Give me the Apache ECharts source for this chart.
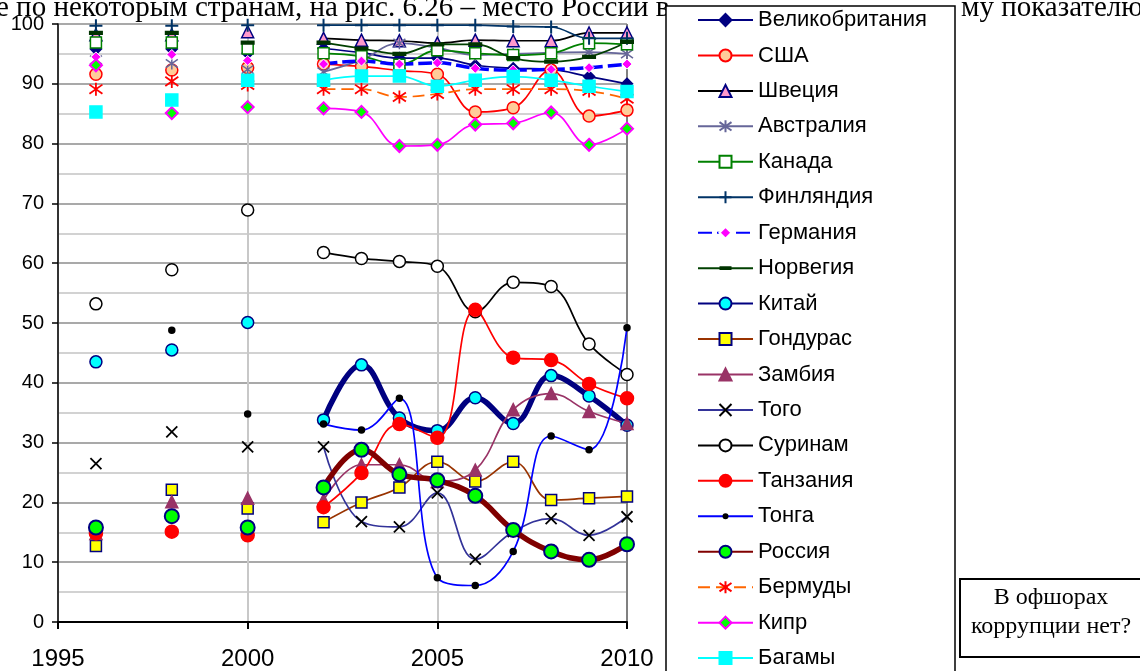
<!DOCTYPE html>
<html><head><meta charset="utf-8">
<script src="https://cdn.jsdelivr.net/npm/echarts@6/dist/echarts.min.js"></script>
<style>html,body{margin:0;padding:0;background:#fff;overflow:hidden}#c{width:1140px;height:671px}</style>
</head><body><div id="c"></div>
<script>
// ---- data (percentile rank) ----
const years = [1996,1997,1998,1999,2000,2001,2002,2003,2004,2005,2006,2007,2008,2009,2010];
const xTickLabels = [1995,2000,2005,2010];
const yTickLabels = [0,10,20,30,40,50,60,70,80,90,100];
const names = ['Великобритания','США','Швеция','Австралия','Канада','Финляндия','Германия','Норвегия','Китай','Гондурас','Замбия','Того','Суринам','Танзания','Тонга','Россия','Бермуды','Кипр','Багамы'];
const uk       = [95.8,null,95.8,null,95.1,null, 95.9,95.2,94.3,94.3,93.1,92.6,92.4,91.2,90.0];
const usa      = [91.6,null,92.3,null,92.7,null, 93.3,92.9,92.2,91.6,85.3,86.0,92.3,84.6,85.6];
const sweden   = [98.2,null,98.2,null,98.7,null, 97.6,97.3,97.2,96.8,97.3,97.2,97.2,98.5,98.5];
const australia= [94.0,null,93.4,null,92.4,null, 92.0,94.0,96.8,96.0,94.8,95.0,95.2,95.3,95.0];
const canada   = [96.9,null,96.9,null,95.9,null, 95.1,94.6,93.2,95.6,95.1,94.8,95.1,96.8,96.6];
const finland  = [99.7,null,99.7,null,99.8,null, 99.8,99.8,99.8,99.8,99.8,99.6,99.5,97.6,97.6];
const germany  = [94.5,null,94.9,null,93.9,null, 93.3,93.8,93.3,93.5,92.6,92.3,92.4,92.7,93.3];
const norway   = [98.5,null,98.5,null,96.9,null, 96.9,95.9,95.0,96.6,96.6,94.3,93.7,94.5,97.0];
const china    = [43.5,null,45.5,null,50.1,null, 33.8,43.0,34.1,32.0,37.5,33.2,41.2,37.8,32.9];
const honduras = [12.7,null,22.1,null,19.0,null, 16.7,20.0,22.5,26.8,23.5,26.8,20.4,20.7,21.0];
const zambia   = [14.8,null,20.1,null,20.7,null, 20.4,26.3,26.3,23.5,25.4,35.5,38.2,35.2,33.2];
const togo     = [26.5,null,31.8,null,29.3,null, 29.3,16.8,15.9,21.6,10.5,15.1,17.3,14.5,17.6];
const suriname = [53.2,null,58.9,null,68.9,null, 61.8,60.8,60.3,59.5,51.9,56.8,56.1,46.5,41.4];
const tanzania = [14.8,null,15.1,null,14.5,null, 19.2,24.9,33.1,30.8,52.2,44.2,43.8,39.8,37.4];
const tonga    = [null,null,48.8,null,34.8,null, 33.1,32.1,37.4,7.4,6.1,11.8,31.1,28.8,49.2];
const russia   = [15.8,null,17.7,null,15.8,null, 22.5,28.8,24.7,23.7,21.1,15.4,11.8,10.4,13.0];
const bermuda  = [89.1,null,90.4,null,89.8,null, 89.1,89.1,87.8,88.3,89.1,89.1,89.1,88.8,87.5];
const cyprus   = [93.1,null,85.1,null,86.1,null, 85.9,85.3,79.6,79.8,83.2,83.4,85.2,79.8,82.5];
const bahamas  = [85.3,null,87.3,null,90.6,null, 90.6,91.3,91.3,89.6,90.6,91.2,90.6,89.6,88.7];

const AST = 'path://M10,0L10,20M0,3L20,17M20,3L0,17';
const PLUS = 'path://M10,0L10,20M0,10L20,10';
const XS = 'path://M0,0L20,20M20,0L0,20';
const DASH = 'path://M0,0L0,0.1M20,20L20,19.9M0,7L20,7L20,13L0,13Z';
const DOT = 'path://M0,0L0,0.1M20,20L20,19.9M15,10A5,5 0 1,1 5,10A5,5 0 1,1 15,10Z';

function mk(name, data, o) {
  return {
    name: name, type: 'line',
    data: years.map(function (y, i) { return [y, data[i] == null ? '-' : data[i]]; }),
    smooth: 0.4, connectNulls: false, showSymbol: true, showAllSymbol: true,
    symbol: o.symbol, symbolSize: o.size,
    lineStyle: { color: o.line, width: o.w || 1.7, type: o.dash || 'solid' },
    itemStyle: { color: o.fill, borderColor: o.border || o.fill, borderWidth: o.bw == null ? 1.5 : o.bw },
    emphasis: { disabled: true }, animation: false
  };
}

const series = [
  mk(names[0], uk,        { line:'#000080', symbol:'diamond', size:11, fill:'#000080' }),
  mk(names[1], usa,       { line:'#ff0000', symbol:'circle', size:12, fill:'#ffcc99', border:'#ff0000' }),
  mk(names[2], sweden,    { line:'#000000', symbol:'triangle', size:12, fill:'#ff99cc', border:'#000080' }),
  mk(names[3], australia, { line:'#666699', symbol:AST, size:12, fill:'none', border:'#666699' }),
  mk(names[4], canada,    { line:'#008000', symbol:'rect', size:11, fill:'#ffffff', border:'#008000' }),
  mk(names[5], finland,   { line:'#003366', symbol:PLUS, size:13, fill:'none', border:'#003366', bw:2 }),
  mk(names[6], germany,   { line:'#0000ff', w:3.5, dash:[14,5], symbol:'diamond', size:10, fill:'#ff00ff', border:'#ffffff', bw:1 }),
  mk(names[7], norway,    { line:'#004000', symbol:DASH, size:14, fill:'#003300', bw:0 }),
  mk(names[8], china,     { line:'#000080', w:5.5, symbol:'circle', size:12, fill:'#00ffff', border:'#000080' }),
  mk(names[9], honduras,  { line:'#993300', symbol:'rect', size:11, fill:'#ffff00', border:'#000080' }),
  mk(names[10], zambia,   { line:'#993366', symbol:'triangle', size:12, fill:'#993366' }),
  mk(names[11], togo,     { line:'#333399', symbol:XS, size:11, fill:'none', border:'#000000', bw:1.8 }),
  mk(names[12], suriname, { line:'#000000', symbol:'circle', size:12, fill:'#ffffff', border:'#000000' }),
  mk(names[13], tanzania, { line:'#ff0000', symbol:'circle', size:13, fill:'#ff0000' }),
  mk(names[14], tonga,    { line:'#0000ff', symbol:DOT, size:15, fill:'#000000', bw:0 }),
  mk(names[15], russia,   { line:'#800000', w:5.5, symbol:'circle', size:14, fill:'#00ff00', border:'#000080', bw:2 }),
  mk(names[16], bermuda,  { line:'#ff6600', dash:[12,6], symbol:AST, size:13, fill:'none', border:'#ff0000', bw:1.8 }),
  mk(names[17], cyprus,   { line:'#ff00ff', symbol:'diamond', size:12, fill:'#00ff00', border:'#ff00ff', bw:2 }),
  mk(names[18], bahamas,  { line:'#00ffff', symbol:'rect', size:12, fill:'#00ffff' })
];

const chart = echarts.init(document.getElementById('c'), null, { renderer: 'canvas' });
chart.setOption({
  backgroundColor: '#ffffff',
  animation: false,
  grid: { left: 58, top: 24, right: 513, bottom: 49 },
  xAxis: {
    type: 'value', min: 1995, max: 2010, interval: 5,
    axisLine: { show: true, onZero: false, lineStyle: { color: '#000', width: 2 } },
    axisTick: { show: true, length: 7, lineStyle: { color: '#000', width: 2 } },
    axisLabel: { color: '#000', fontSize: 24, fontFamily: 'Liberation Sans, Arial', margin: 25,
      formatter: function (v) { return xTickLabels.indexOf(v) >= 0 ? String(v) : ''; } },
    splitLine: { show: true, lineStyle: { color: ['#c8c8c8','#c8c8c8','#c8c8c8','#808080'], width: 2 } }
  },
  yAxis: {
    type: 'value', min: 0, max: 100, interval: 10,
    axisLine: { show: true, lineStyle: { color: '#000', width: 1.5 } },
    axisTick: { show: true, length: 6, lineStyle: { color: '#000', width: 1.5 } },
    axisLabel: { color: '#000', fontSize: 20, fontFamily: 'Liberation Sans, Arial', margin: 14,
      formatter: function (v) { return yTickLabels.indexOf(v) >= 0 ? String(v) : ''; } },
    splitLine: { show: true, lineStyle: { color: '#8c8c8c', width: 1.5 } },
    minorTick: { show: false, splitNumber: 2 },
    minorSplitLine: { show: true, lineStyle: { color: '#c4c4c4', width: 1.5 } }
  },
  legend: {
    orient: 'vertical', left: 697, top: 9, padding: 0,
    itemWidth: 55, itemHeight: 15, itemGap: 13.45,
    selectedMode: false,
    textStyle: { color: '#000', fontSize: 22, fontFamily: 'Liberation Sans, Arial', lineHeight: 22 },
    data: names
  },
  graphic: [
    { type: 'text', x: -4, y: 8, z: 1, style: { text: 'е по некоторым странам, на рис. 6.26 – место России в', font: '29px "Liberation Serif", "Times New Roman"', fill: '#000', verticalAlign: 'middle', align: 'left' } },
    { type: 'text', x: 1143, y: 8, z: 1, style: { text: 'му показателю', font: '29px "Liberation Serif", "Times New Roman"', fill: '#000', verticalAlign: 'middle', align: 'right' } },
    { type: 'rect', z: 2, shape: { x: 666, y: 6, width: 289, height: 720 }, style: { fill: '#fff', stroke: '#000', lineWidth: 1.5 } },
    { type: 'rect', z: 2, shape: { x: 960, y: 579, width: 200, height: 78 }, style: { fill: '#fff', stroke: '#000', lineWidth: 2 } },
    { type: 'text', z: 3, x: 1051, y: 598, style: { text: 'В офшорах', font: '24px "Liberation Serif", "Times New Roman"', fill: '#000', align: 'center', verticalAlign: 'middle' } },
    { type: 'text', z: 3, x: 1051, y: 627, style: { text: 'коррупции нет?', font: '24px "Liberation Serif", "Times New Roman"', fill: '#000', align: 'center', verticalAlign: 'middle' } }
  ],
  series: series
});
</script>
</body></html>
